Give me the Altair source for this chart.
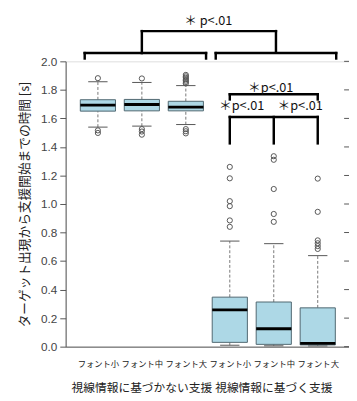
import altair as alt
import pandas as pd

# ---- data ----
categories = ["フォント小", "フォント中", "フォント大", "フォント小", "フォント中", "フォント大"]
positions = [1, 2, 3, 4, 5, 6]
groups = ["視線情報に基づかない支援", "視線情報に基づく支援"]
group_pos = [2, 5]

q1 = [1.651, 1.653, 1.653, 0.030, 0.016, 0.012]
median = [1.693, 1.697, 1.679, 0.258, 0.125, 0.023]
q3 = [1.731, 1.733, 1.720, 0.347, 0.313, 0.272]
whisker_low = [1.539, 1.546, 1.557, 0.010, 0.006, 0.005]
whisker_high = [1.857, 1.852, 1.830, 0.740, 0.722, 0.638]

outlier_pos = ([1] * 3 + [2] * 4 + [3] * 10 + [4] * 6 + [5] * 5 + [6] * 6)
outlier_val = ([1.882, 1.516, 1.498]
               + [1.880, 1.525, 1.508, 1.486]
               + [1.905, 1.895, 1.885, 1.875, 1.865, 1.855, 1.845, 1.525, 1.510, 1.495]
               + [1.260, 1.180, 1.020, 0.985, 0.885, 0.840]
               + [1.335, 1.310, 1.105, 0.930, 0.875]
               + [1.178, 0.945, 0.745, 0.725, 0.705, 0.685])

y_ticks = [0.0, 0.2, 0.4, 0.6, 0.8, 1.0, 1.2, 1.4, 1.6, 1.8, 2.0]

# significance brackets (in data units)
sig_label = "＊p<.01"
top_label = "＊ p<.01"

W, H = 290, 292
X_DOM = [1 - 33 / 45, 1 - 33 / 45 + W / 45]

boxes = pd.DataFrame({
    "pos": positions, "cat": categories,
    "q1": q1, "med": median, "q3": q3, "lo": whisker_low, "hi": whisker_high,
})
boxes["xl"] = boxes["pos"] - 0.4
boxes["xr"] = boxes["pos"] + 0.4
boxes["cl"] = boxes["pos"] - 0.22
boxes["cr"] = boxes["pos"] + 0.22

outliers = pd.DataFrame({"pos": outlier_pos, "v": outlier_val})

xs = alt.Scale(domain=X_DOM, nice=False, zero=False)
ys = alt.Scale(domain=[0, 2], nice=False, zero=False)

label_arr = "[" + ",".join("'" + c + "'" for c in categories) + "]"
x_axis = alt.Axis(values=positions, labelExpr=label_arr + "[datum.value-1]",
                  title=None, grid=False, ticks=False, labelFontSize=8.5,
                  labelFont="Noto Sans CJK JP", labelColor="#222", labelPadding=13,
                  labelOverlap=False, domainColor="#555")
y_axis = alt.Axis(values=y_ticks, format=".1f", grid=False, tickSize=6,
                  tickColor="#555", domainColor="#555", labelFontSize=12,
                  labelFont="Liberation Sans", labelColor="#444", labelPadding=3,
                  labelOverlap=False,
                  title="ターゲット出現から支援開始までの時間 [s]",
                  titleFont="Noto Sans CJK JP", titleFontSize=13, titleFontWeight="normal",
                  titleColor="#222", titleX=-42, titleY=H / 2, titleAngle=-90,
                  titleAlign="center", titleBaseline="middle")


def X(f):
    return alt.X(f, scale=xs, axis=x_axis)


def Y(f):
    return alt.Y(f, scale=ys, axis=y_axis)


base = alt.Chart(boxes)

whisk_up = base.mark_rule(color="#777", strokeDash=[3, 2], strokeWidth=1).encode(
    x=X("pos:Q"), y=Y("q3:Q"), y2="hi:Q")
whisk_dn = base.mark_rule(color="#777", strokeDash=[3, 2], strokeWidth=1).encode(
    x=X("pos:Q"), y=Y("lo:Q"), y2="q1:Q")
cap_hi = base.mark_rule(color="#555", strokeWidth=1).encode(
    x=X("cl:Q"), x2="cr:Q", y=Y("hi:Q"))
cap_lo = base.mark_rule(color="#555", strokeWidth=1).encode(
    x=X("cl:Q"), x2="cr:Q", y=Y("lo:Q"))
box = base.mark_rect(fill="#add8e6", stroke="#4f6670", strokeWidth=1).encode(
    x=X("xl:Q"), x2="xr:Q", y=Y("q1:Q"), y2="q3:Q")
med = base.mark_rule(color="black", strokeWidth=3).encode(
    x=X("xl:Q"), x2="xr:Q", y=Y("med:Q"))

outl = alt.Chart(outliers).mark_point(shape="circle", filled=False, color="#555",
                                      size=28, strokeWidth=1, opacity=1).encode(
    x=X("pos:Q"), y=Y("v:Q"))

right_ticks = alt.Chart(pd.DataFrame({"v": y_ticks})).mark_rule(
    color="#555", strokeWidth=1).encode(
    x=alt.value(W - 5), x2=alt.value(W), y=Y("v:Q"))

# bracket segments
seg_x1 = [2.0, 5.05, 0.70, 0.70, 3.46, 3.68, 3.68, 6.42, 4, 4, 6, 4, 4, 5, 6]
seg_x2 = [5.05, 5.05, 3.46, 0.70, 3.46, 6.42, 3.68, 6.42, 6, 4, 6, 6, 4, 5, 6]
seg_y1 = [2.212, 2.212, 2.058, 2.058, 2.058, 2.058, 2.058, 2.058, 1.769, 1.769, 1.769, 1.610, 1.610, 1.610, 1.610]
seg_y2 = [2.212, 2.062, 2.058, 2.020, 2.020, 2.058, 2.020, 2.020, 1.769, 1.733, 1.733, 1.610, 1.425, 1.425, 1.425]
stem = pd.DataFrame({"x": [2.0], "y1": [2.212], "y2": [2.058]})
segs = pd.DataFrame({"x": seg_x1, "x2": seg_x2, "y": seg_y1, "y2": seg_y2})
brackets = alt.Chart(segs).mark_rule(color="black", strokeWidth=2.5, strokeCap="square").encode(
    x=X("x:Q"), x2="x2:Q", y=Y("y:Q"), y2="y2:Q")
stem_l = alt.Chart(stem).mark_rule(color="black", strokeWidth=2.5, strokeCap="square").encode(
    x=X("x:Q"), y=Y("y1:Q"), y2="y2:Q")

sig = pd.DataFrame({
    "x": [3.51, 4.93, 4.27, 5.60],
    "y": [2.281, 1.815, 1.685, 1.685],
    "t": [top_label, sig_label, sig_label, sig_label],
})
sig_text = alt.Chart(sig).mark_text(font="Noto Sans CJK JP", fontSize=13, color="#111",
                                    baseline="middle", align="center").encode(
    x=X("x:Q"), y=Y("y:Q"), text="t:N")

grp = pd.DataFrame({"x": group_pos, "t": groups})
grp_text = alt.Chart(grp).mark_text(font="Noto Sans CJK JP", fontSize=12, color="#222",
                                    baseline="middle", align="center").encode(
    x=X("x:Q"), y=alt.value(H + 42), text="t:N")

chart = alt.layer(
    whisk_up, whisk_dn, cap_hi, cap_lo, box, med, outl, right_ticks,
    brackets, stem_l, sig_text, grp_text
).properties(
    width=W, height=H,
    autosize=alt.AutoSizeParams(type="none"),
    padding={"left": 59, "top": 50, "right": 0, "bottom": 50},
).configure_view(stroke="#555", strokeWidth=1).configure(background="white")

chart.save("out.html", embed_options={"renderer": "svg", "actions": False})
